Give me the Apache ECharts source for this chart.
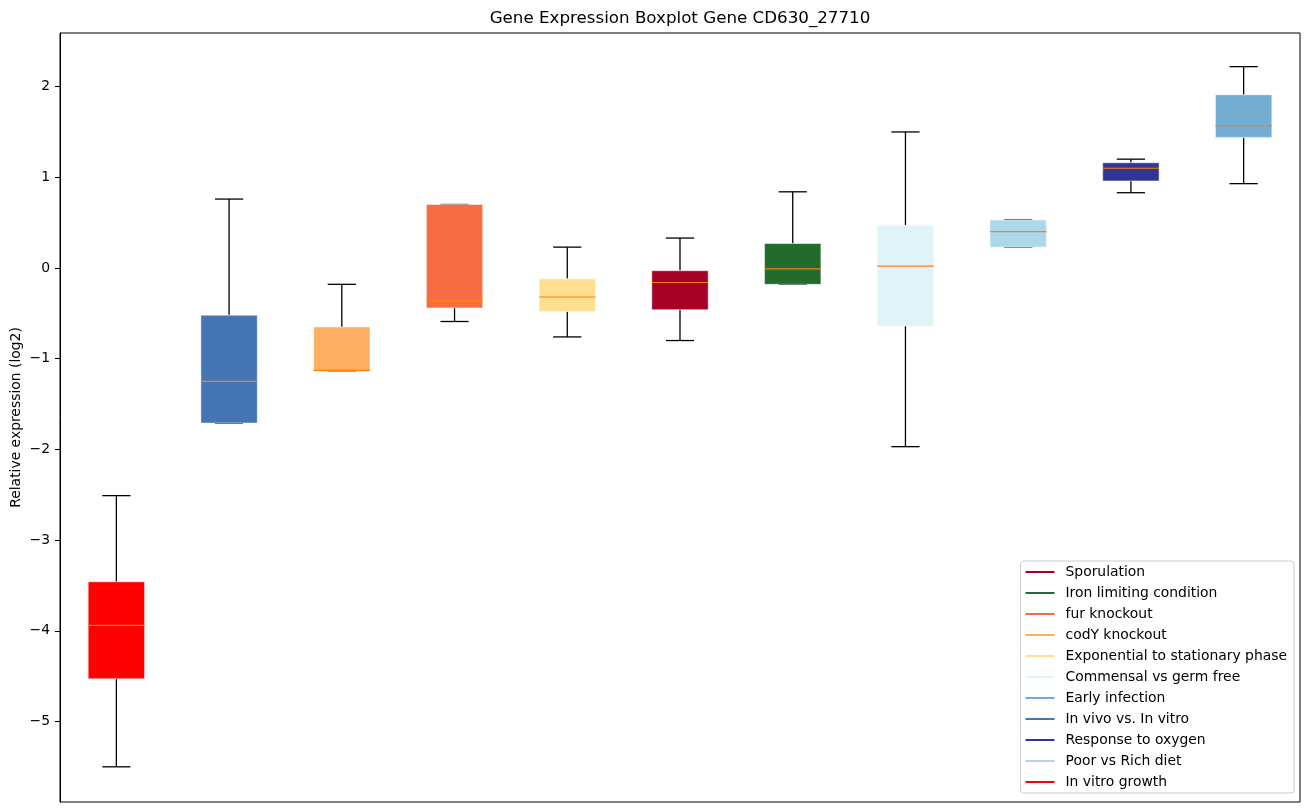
<!DOCTYPE html>
<html>
<head>
<meta charset="utf-8">
<script src="https://cdn.jsdelivr.net/npm/echarts@6/dist/echarts.min.js"></script>
<style>
html,body{margin:0;padding:0;background:#fff;}
#chart{width:1309px;height:812px;}
</style>
</head>
<body>
<div id="chart"></div>
<script>
// Conditions in plot order (left to right)
const categories = [
  'In vitro growth', 'In vivo vs. In vitro', 'codY knockout', 'fur knockout',
  'Exponential to stationary phase', 'Sporulation', 'Iron limiting condition',
  'Commensal vs germ free', 'Poor vs Rich diet', 'Response to oxygen', 'Early infection'
];
const lowWhisker  = [-5.50, -1.71, -1.14, -0.59, -0.76, -0.80, -0.18, -1.97, 0.23, 0.83, 0.93];
const q1          = [-4.53, -1.71, -1.14, -0.44, -0.48, -0.46, -0.18, -0.64, 0.23, 0.96, 1.44];
const median      = [-3.94, -1.25, -1.13, -0.36, -0.32, -0.16, -0.01,  0.02, 0.40, 1.10, 1.57];
const q3          = [-3.46, -0.52, -0.65,  0.70, -0.12, -0.03,  0.27,  0.47, 0.53, 1.16, 1.91];
const highWhisker = [-2.51,  0.76, -0.18,  0.70,  0.23,  0.33,  0.84,  1.50, 0.53, 1.20, 2.22];

const legendOrder = [
  'Sporulation', 'Iron limiting condition', 'fur knockout', 'codY knockout',
  'Exponential to stationary phase', 'Commensal vs germ free', 'Early infection',
  'In vivo vs. In vitro', 'Response to oxygen', 'Poor vs Rich diet', 'In vitro growth'
];
const yTicks = [-5, -4, -3, -2, -1, 0, 1, 2];

// styles
const boxColors = {
  'In vitro growth': '#ff0000',
  'In vivo vs. In vitro': '#4575b4',
  'codY knockout': '#fdae61',
  'fur knockout': '#f46d43',
  'Exponential to stationary phase': '#fee090',
  'Sporulation': '#a50026',
  'Iron limiting condition': '#236b2d',
  'Commensal vs germ free': '#e0f3f8',
  'Poor vs Rich diet': '#abd9e9',
  'Response to oxygen': '#313695',
  'Early infection': '#74add1'
};

function renderBox(params, api) {
  const x = api.value(0);
  const pLo = api.coord([x, api.value(1)]);
  const pQ1 = api.coord([x, api.value(2)]);
  const pMed = api.coord([x, api.value(3)]);
  const pQ3 = api.coord([x, api.value(4)]);
  const pHi = api.coord([x, api.value(5)]);
  const slot = api.size([1, 0])[0];
  const hb = slot * 0.25, hc = slot * 0.125;
  const cx = pMed[0];
  const color = api.visual('color');
  const black = {stroke: '#000', lineWidth: 1.3};
  return {
    type: 'group',
    children: [
      {type: 'line', shape: {x1: cx, y1: pHi[1], x2: cx, y2: pQ3[1]}, style: black},
      {type: 'line', shape: {x1: cx, y1: pQ1[1], x2: cx, y2: pLo[1]}, style: black},
      {type: 'line', shape: {x1: cx - hc, y1: pHi[1], x2: cx + hc, y2: pHi[1]}, style: black},
      {type: 'line', shape: {x1: cx - hc, y1: pLo[1], x2: cx + hc, y2: pLo[1]}, style: black},
      {type: 'rect', shape: {x: cx - hb, y: pQ3[1], width: 2 * hb, height: pQ1[1] - pQ3[1]},
        style: {fill: color, stroke: 'rgba(255,255,255,0.5)', lineWidth: 1}},
      {type: 'line', shape: {x1: cx - hb, y1: pMed[1], x2: cx + hb, y2: pMed[1]},
        style: {stroke: '#ff7f0e', lineWidth: 1.2}}
    ]
  };
}

const series = categories.map((name, i) => ({
  name: name,
  type: 'custom',
  renderItem: renderBox,
  itemStyle: {color: boxColors[name]},
  encode: {x: 0, y: [1, 2, 3, 4, 5]},
  data: [[i, lowWhisker[i], q1[i], median[i], q3[i], highWhisker[i]]],
  silent: true,
  animation: false
}));

const chart = echarts.init(document.getElementById('chart'));
chart.setOption({
  animation: false,
  backgroundColor: '#fff',
  textStyle: {fontFamily: 'DejaVu Sans'},
  title: {
    text: 'Gene Expression Boxplot Gene CD630_27710',
    left: 675, top: 5, textAlign: 'center',
    textStyle: {fontFamily: 'DejaVu Sans', fontSize: 16.7, fontWeight: 'normal', color: '#000'}
  },
  grid: {left: 60, right: 9, top: 33, bottom: 10, containLabel: false, outerBoundsMode: 'none',
    show: true, borderColor: '#000', borderWidth: 1, backgroundColor: 'transparent'},
  xAxis: {
    type: 'category', data: categories, boundaryGap: true,
    axisLine: {show: false},
    axisTick: {show: false}, axisLabel: {show: false}, splitLine: {show: false}
  },
  yAxis: {
    type: 'value', min: -5.888, max: 2.591,
    name: 'Relative expression (log2)', nameLocation: 'middle', nameGap: 37, nameMoveOverlap: false,
    nameTextStyle: {fontFamily: 'DejaVu Sans', fontSize: 13.9, color: '#000'},
    axisLine: {show: true, onZero: false, lineStyle: {color: '#000'}},
    axisTick: {show: true, length: 5, lineStyle: {color: '#000'}, customValues: yTicks},
    axisLabel: {
      customValues: yTicks, margin: 10, color: '#000', fontSize: 13.9, fontFamily: 'DejaVu Sans',
      formatter: v => v < 0 ? '\u2212' + Math.abs(v) : String(v)
    },
    splitLine: {show: false}
  },
  legend: {
    data: legendOrder,
    orient: 'vertical', right: 15, bottom: 19,
    icon: 'rect', itemWidth: 29, itemHeight: 2, itemGap: 7,
    padding: [4, 7, 4, 5],
    backgroundColor: 'rgba(255,255,255,0.8)', borderColor: '#cccccc', borderWidth: 1, borderRadius: 3,
    textStyle: {fontFamily: 'DejaVu Sans', fontSize: 13.9, color: '#000', lineHeight: 14, padding: [0, 0, 0, 6]},
    selectedMode: false
  },
  series: series
});
</script>
</body>
</html>
